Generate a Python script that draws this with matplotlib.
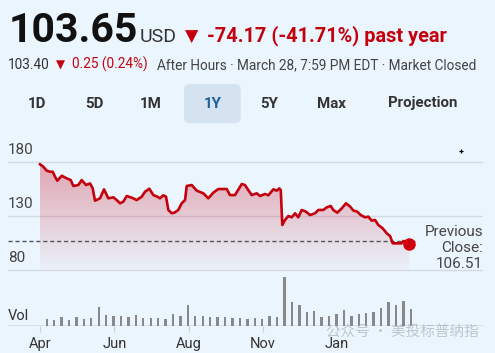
import numpy as np
import matplotlib.pyplot as plt
from matplotlib.patches import FancyBboxPatch

# price line (x = weeks after the Apr tick)
week = [0.0, 0.44, 0.9, 1.35, 1.71, 2.02, 2.33, 2.92, 3.59, 4.13, 4.48, 5.15, 5.61, 6.19, 6.73,
        7.09, 7.40, 8.08, 8.61, 9.19, 9.87, 10.32, 10.77, 11.21, 11.67, 12.34, 13.01, 13.69,
        14.13, 14.71, 15.25, 15.79, 16.15, 16.59, 16.96, 17.27, 17.73, 18.17, 18.61, 19.07,
        19.52, 19.74, 20.42, 21.09, 21.98, 22.65, 23.32, 24.0, 25.13, 25.57, 26.24, 27.15,
        27.59, 28.03, 28.49, 29.17, 29.61, 30.28, 30.73, 31.40, 31.86, 32.21, 32.40, 32.61,
        32.97, 33.42, 33.88, 34.32, 34.76, 35.22, 35.80, 36.34, 37.01, 37.46, 38.13, 38.59,
        39.12, 39.47, 40.01, 40.61, 41.18, 41.72, 42.17, 42.70, 43.16, 43.74, 44.19, 44.64,
        45.09, 45.53, 46.12, 46.66, 47.11, 47.47, 48.01, 48.68, 48.90, 49.35, 49.7]
price = [177.9, 175.7, 172.0, 171.0, 171.0, 166.4, 162.7, 167.3, 164.9, 163.3, 157.8, 158.7,
         163.3, 158.7, 160.2, 155.6, 144.2, 146.4, 154.7, 146.4, 147.3, 144.8, 141.8, 143.3,
         148.5, 147.0, 144.8, 147.9, 152.5, 155.3, 149.4, 147.9, 146.4, 149.2, 147.9, 135.6,
         132.5, 133.4, 135.6, 141.8, 144.8, 157.8, 158.7, 153.5, 151.0, 146.4, 151.6, 155.0,
         155.0, 149.4, 149.4, 159.6, 158.7, 154.0, 149.4, 151.0, 148.5, 150.4, 149.2, 154.7,
         153.5, 155.6, 154.0, 121.7, 126.3, 130.0, 128.8, 132.5, 128.8, 135.6, 134.0, 130.9,
         132.5, 135.6, 135.6, 138.0, 139.3, 135.6, 133.1, 137.1, 141.8, 138.8, 135.1, 134.0,
         130.9, 128.8, 129.4, 125.7, 126.3, 121.7, 118.6, 114.0, 111.5, 104.7, 104.7, 104.7,
         106.9, 105.3, 103.65]

# weekly volume (relative heights)
volume = [22, 18, 26, 18, 26, 22, 25, 57, 33, 31, 29, 28, 34, 25, 25, 25, 22, 37, 30, 64,
          30, 29, 28, 27, 26, 25, 24, 22, 25, 22, 30, 28, 148, 73, 63, 41, 44, 26, 31, 36,
          47, 31, 37, 40, 42, 55, 73, 64, 76, 52]

prev_close = 106.51
y_ticks = [80, 130, 180]
month_pos = [0, 10, 20, 30, 40]
month_labels = ["Apr", "Jun", "Aug", "Nov", "Jan"]
ranges = ["1D", "5D", "1M", "1Y", "5Y", "Max", "Projection"]
range_x = [36.7, 94.5, 151, 212.7, 268.8, 331.7, 422.2]

W, H = 495, 353
bg = "#ebf5fd"
red = "#c4000c"
fnt = ["Roboto", "DejaVu Sans"]

def px(x, y):
    return x / W, 1 - y / H

fig = plt.figure(figsize=(W / 100, H / 100), dpi=100, facecolor=bg)

# header
fig.text(*px(9, 41.7), "103.65", fontsize=29.5, fontweight="bold", color="#111", family=fnt, va="baseline")
fig.text(*px(140, 41.7), "USD", fontsize=14, color="#333", family=fnt, va="baseline")
fig.text(*px(185, 41.7), "▼", fontsize=12.5, color=red, family=["DejaVu Sans"], va="baseline")
fig.text(*px(207, 41.7), "-74.17 (-41.71%) past year", fontsize=14.3, fontweight="bold",
         color=red, family=fnt, va="baseline")
fig.text(*px(8, 69), "103.40", fontsize=9.8, color="#333", family=fnt, va="baseline")
fig.text(*px(56, 69), "▼", fontsize=8.5, color=red, family=["DejaVu Sans"], va="baseline")
fig.text(*px(72, 69), "0.25 (0.24%)", fontsize=9.8, color=red, family=fnt, va="baseline")
fig.text(*px(157, 69), "After Hours · March 28, 7:59 PM EDT · Market Closed", fontsize=9.8,
         color="#444", family=fnt, va="baseline")

# range buttons
bx0, by0 = px(184, 123.3)
bx1, by1 = px(240.7, 84)
fig.patches.append(FancyBboxPatch((bx0, by0), bx1 - bx0, by1 - by0,
                                  boxstyle="round,pad=0,rounding_size=0.014",
                                  transform=fig.transFigure, fc="#d4e3ef", ec="none"))
for lab, xc in zip(ranges, range_x):
    col = "#1d5f98" if lab == "1Y" else "#333"
    fig.text(*px(xc, 103.5), lab, fontsize=10.8, fontweight="bold", color=col,
             family=fnt, ha="center", va="center")

# price panel
ax = fig.add_axes([8 / W, 1 - 272 / H, 475 / W, 132 / H])
ax.set_facecolor("none")
ax.set_xlim(-4.31, 59.62)
ax.set_ylim(78.15, 200.4)
for v in y_ticks:
    ax.axhline(v, color="#d3dbe3", lw=1, zorder=1)
    ax.annotate(str(v), (0, v), xycoords=("axes fraction", "data"), xytext=(0, 3.5),
                textcoords="offset points", fontsize=11, color="#444", family=fnt,
                ha="left", va="bottom")

fill = ax.fill_between(week, price, y_ticks[0], color="none", lw=0)
grad = np.zeros((100, 1, 4))
grad[:, 0, 0] = 0.80
grad[:, 0, 1] = 0.10
grad[:, 0, 2] = 0.18
grad[:, 0, 3] = np.linspace(0.36, 0.02, 100)
img = ax.imshow(grad, extent=[week[0], week[-1], y_ticks[0], max(price)], aspect="auto",
                origin="upper", zorder=2)
img.set_clip_path(fill.get_paths()[0], transform=ax.transData)

ax.hlines(prev_close, ax.get_xlim()[0], week[-1] + 1, colors="#555", lw=1,
          linestyles=(0, (3, 2)), zorder=3)
ax.plot(week, price, color=red, lw=1.9, zorder=4, solid_joinstyle="round")
ax.plot(week[-1], price[-1], "o", ms=8, color="#d0000c", zorder=5)
ax.plot(56.7, 190, "+", ms=3.5, mew=0.9, color="black", zorder=5)

fig.text(*px(483, 236), "Previous", fontsize=11, color="#444", family=fnt, ha="right", va="baseline")
fig.text(*px(483, 252), "Close:", fontsize=11, color="#444", family=fnt, ha="right", va="baseline")
fig.text(*px(483, 268), f"{prev_close:.2f}", fontsize=11, color="#444", family=fnt,
         ha="right", va="baseline")
ax.axis("off")

# volume panel
av = fig.add_axes([8 / W, 1 - 326 / H, 475 / W, 52 / H])
av.set_facecolor("none")
av.set_xlim(-4.31, 59.62)
av.set_ylim(0, 156)
av.bar(np.arange(len(volume)) + 0.9, volume, width=0.32, color="#888", zorder=2)
av.axhline(0, color="#d3dbe3", lw=1.2, zorder=1)
for s in av.spines.values():
    s.set_visible(False)
av.set_yticks([])
av.set_xticks(month_pos)
av.set_xticklabels(month_labels, fontsize=10.5, color="#333", family=fnt)
av.tick_params(axis="x", length=4, width=0.8, color="#c8d0d8", pad=4)
av.annotate("Vol", (0, 0), xycoords="axes fraction", xytext=(0, 2), textcoords="offset points",
            fontsize=10.5, color="#333", family=fnt, ha="left", va="bottom")

# watermark
fig.text(*px(326, 333), "公众号 · 美投标普纳指", fontsize=10.5, color="#9aa0a6", alpha=0.55,
         family=["Noto Sans CJK SC", "DejaVu Sans"], va="center")

fig.savefig("out.png", dpi=100, facecolor=bg)
